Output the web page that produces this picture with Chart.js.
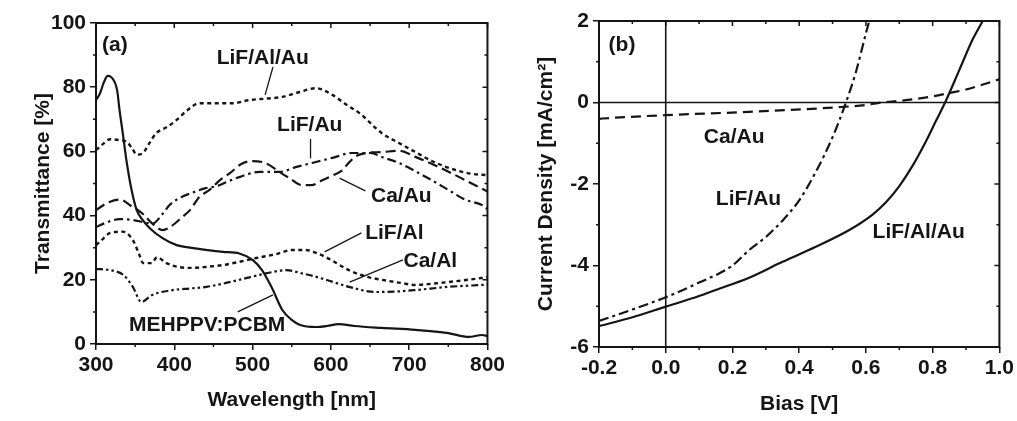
<!DOCTYPE html>
<html><head><meta charset="utf-8">
<script src="https://cdn.jsdelivr.net/npm/chart.js@4.4.1/dist/chart.umd.min.js"></script>
<style>
html,body{margin:0;padding:0;background:#fff;width:1017px;height:421px;overflow:hidden}
#ca{position:absolute;left:0;top:0}
#cb{position:absolute;left:508px;top:0}
</style></head><body>
<canvas id="ca" width="508" height="421"></canvas>
<canvas id="cb" width="509" height="421"></canvas>
<script>
// ---------- Panel (a): Transmittance vs wavelength ----------
const mehWl = [300,305,310,315,320,327,330,334,339,345,352,360,369,385,403,420,440,462,483,500,512,524,538,550,560,581,595,610,630,665,708,750,776,793,800];
const mehT  = [76,78,81.5,83.5,83,79,73,66,57,48.5,41.7,38.5,36,33,30.8,30,29.3,28.7,28.2,26.2,23,17.8,10.6,7.5,6,5.3,5.6,6.2,5.6,5,4.4,3.4,2.2,2.8,2.5];

const lalaWl = [300,310,318,330,339,346,352,360,368,377,390,403,415,432,450,474,496,520,538,560,581,602,620,636,665,687,708,729,759,780,800];
const lalaT  = [60.4,62.5,63.8,63.5,63,61,59,59.5,62.5,65.7,67.5,69.8,72.5,75,75,75,76,76.5,77,78.5,79.7,77.6,74.5,72,65.7,62.6,59.8,57,54.2,53,52.6];

const caAuWl = [300,315,330,345,360,372,385,395,410,420,432,445,458,471,485,500,512,521,538,547,563,575,589,602,614,623,632,645,665,687,708,738,772,800];
const caAuT  = [41.7,44,45,43,40.5,37.5,35.5,36.5,39.5,41.7,45.8,48,51,53.2,56,57,56.7,55.8,53,51.7,49.5,49.5,51,52.5,54,56.5,58.5,59.5,59.8,60.2,58.3,55.1,51,47.5];

const lfAuWl = [300,315,330,348,360,372,385,394,407,426,439,454,470,483,509,534,555,576,602,627,650,668,687,708,729,750,772,793,800];
const lfAuT  = [36.4,38,38.9,38.6,38,37.5,40.5,43.3,45.5,47.4,48.5,49.2,50.8,52,53.6,53.6,55.1,56.4,58,59.5,59.5,58,56.4,53.8,51,48,44.9,43.3,42];

const lfAlWl = [300,310,318,334,347,355,360,371,378,390,405,420,440,462,483,505,530,551,568,580,594,623,645,665,690,708,730,750,775,800];
const lfAlT  = [30.8,33,34.6,35,32.4,28,25.2,25.2,27,25.2,24,23.7,24,24.6,25.6,26.8,28,29.3,29.3,28.5,27,23,21,20,19,18.4,18.8,19.3,20,20.8];

const caAlWl = [300,318,335,347,358,372,398,420,441,462,483,500,517,543,563,580,594,623,657,680,708,750,793,800];
const caAlT  = [23.4,23,21.5,17.8,13.1,15.3,16.8,17.3,17.8,18.8,20,21,22,23,22,21,20,17.8,16.2,16.3,16.8,17.8,18.4,18.5];

// ---------- Panel (b): J-V curves ----------
const jvCaAuV = [-0.2,-0.167,0.0,0.25,0.528,0.6,0.648,0.7,0.749,0.8,0.848,0.9,0.946,1.0];
const jvCaAuJ = [-0.4,-0.38,-0.31,-0.23,-0.11,-0.06,0,0.04,0.086,0.15,0.23,0.32,0.43,0.57];

const jvLfAuV = [-0.2,-0.1,0,0.1,0.2,0.25,0.3,0.35,0.4,0.45,0.5,0.54,0.57,0.6,0.61];
const jvLfAuJ = [-5.36,-5.08,-4.78,-4.42,-4.0,-3.62,-3.3,-2.9,-2.4,-1.7,-0.85,0,0.75,1.7,2.0];

const jvLaaV = [-0.2,-0.1,0,0.1,0.15,0.25,0.35,0.45,0.55,0.62,0.66,0.7,0.74,0.78,0.81,0.84,0.88,0.92,0.95];
const jvLaaJ = [-5.49,-5.27,-5.01,-4.75,-4.6,-4.3,-3.91,-3.54,-3.13,-2.75,-2.45,-2.05,-1.55,-0.95,-0.45,0.05,0.8,1.55,2.0];

// tick settings
const aXTicks = {min:300, max:800, step:100, minor:50};
const aYTicks = {min:0, max:100, step:20, minor:10};
const bXTicks = {min:-0.2, max:1.0, step:0.2, minor:0.1};
const bYTicks = {min:-6, max:2, step:2, minor:1};

// ---------- drawing helpers ----------
const FONT = '"Liberation Sans", Arial, Helvetica, sans-serif';
const INK = '#151515';

function ds(label, xs, ys, dash, w){
  return {label, data: xs.map((v,i)=>({x:v, y:ys[i]})), borderColor:INK, backgroundColor:INK,
    borderWidth:w||2, borderDash:dash, pointRadius:0, fill:false, cubicInterpolationMode:'monotone'};
}

function scaleOpts(t, isX, size, decimals){
  return {
    type:'linear', min:t.min, max:t.max,
    ticks:{stepSize:t.step, autoSkip:false, maxRotation:0, color:INK, padding:isX?3:4,
      font:{family:FONT, size:21, weight:'bold'},
      callback:(v)=>{ const n = Math.abs(v)<1e-9 ? 0 : Number(v); return decimals ? n.toFixed(decimals) : String(Math.round(n)); }},
    grid:{display:true, drawOnChartArea:false, drawTicks:true, tickLength:6, color:INK, lineWidth:1.5},
    border:{display:false},
    afterFit(s){ if(isX) s.height=size; else s.width=size; }
  };
}

function panelPlugin(cfg){
  return {
    id:'panel',
    beforeDatasetsDraw(chart){
      if(!cfg.zeroLines) return;
      const {ctx, chartArea:ca, scales:{x,y}} = chart;
      ctx.save(); ctx.strokeStyle=INK; ctx.lineWidth=1.6; ctx.setLineDash([]);
      const px = x.getPixelForValue(0), py = y.getPixelForValue(0);
      ctx.beginPath(); ctx.moveTo(px, ca.top); ctx.lineTo(px, ca.bottom); ctx.stroke();
      ctx.beginPath(); ctx.moveTo(ca.left, py); ctx.lineTo(ca.right, py); ctx.stroke();
      ctx.restore();
    },
    afterDraw(chart){
      const {ctx, chartArea:ca, scales:{x,y}} = chart;
      ctx.save();
      ctx.setLineDash([]);
      ctx.strokeStyle=INK;
      ctx.lineWidth=2;
      ctx.strokeRect(ca.left, ca.top, ca.right-ca.left, ca.bottom-ca.top);
      ctx.lineWidth=1.5;
      const vals=(t,step)=>{const out=[]; const n=Math.round((t.max-t.min)/step); for(let i=0;i<=n;i++) out.push(t.min+i*step); return out;};
      const isMajor=(v,t)=>Math.abs(((v-t.min)/t.step)-Math.round((v-t.min)/t.step))<1e-6;
      ctx.beginPath();
      vals(cfg.xt, cfg.xt.minor).forEach(v=>{
        const p=x.getPixelForValue(v); const maj=isMajor(v,cfg.xt);
        if(!maj){ ctx.moveTo(p, ca.bottom); ctx.lineTo(p, ca.bottom+3); }
        ctx.moveTo(p, ca.top); ctx.lineTo(p, ca.top+(maj?5:3));
      });
      vals(cfg.yt, cfg.yt.minor).forEach(v=>{
        const p=y.getPixelForValue(v); const maj=isMajor(v,cfg.yt);
        if(!maj){ ctx.moveTo(ca.left, p); ctx.lineTo(ca.left-3, p); }
        ctx.moveTo(ca.right, p); ctx.lineTo(ca.right-(maj?5:3), p);
      });
      ctx.stroke();
      ctx.lineWidth=1.3;
      ctx.beginPath();
      cfg.leaders.forEach(l=>{
        ctx.moveTo(x.getPixelForValue(l[0]), y.getPixelForValue(l[1]));
        ctx.lineTo(x.getPixelForValue(l[2]), y.getPixelForValue(l[3]));
      });
      ctx.stroke();
      ctx.fillStyle=INK;
      ctx.font='bold 21px '+FONT;
      ctx.textAlign='center'; ctx.textBaseline='middle';
      cfg.labels.forEach(l=>{ ctx.fillText(l[0], x.getPixelForValue(l[1]), y.getPixelForValue(l[2])); });
      ctx.fillText(cfg.xTitle, (ca.left+ca.right)/2, cfg.xTitleY);
      ctx.save();
      ctx.translate(cfg.yTitleX, (ca.top+ca.bottom)/2);
      ctx.rotate(-Math.PI/2);
      ctx.fillText(cfg.yTitle, 0, 0);
      ctx.restore();
      ctx.restore();
    }
  };
}

// ---------- Panel (a) ----------
new Chart(document.getElementById('ca'), {
  type:'line',
  data:{datasets:[
    ds('MEHPPV:PCBM', mehWl, mehT, [], 2.2),
    ds('LiF/Al/Au', lalaWl, lalaT, [4,3.5], 2.4),
    ds('Ca/Au', caAuWl, caAuT, [10,5], 2.2),
    ds('LiF/Au', lfAuWl, lfAuT, [9,4,2.5,4], 2.2),
    ds('LiF/Al', lfAlWl, lfAlT, [4,3.5], 2.4),
    ds('Ca/Al', caAlWl, caAlT, [7,3,2.5,3,2.5,3], 2.2)
  ]},
  options:{
    responsive:false, animation:false, events:[],
    layout:{padding:{top:23, right:20, left:0, bottom:0}},
    plugins:{legend:{display:false}, tooltip:{enabled:false}},
    scales:{ x: scaleOpts(aXTicks, true, 77, 0), y: scaleOpts(aYTicks, false, 96, 0) }
  },
  plugins:[panelPlugin({
    xt:aXTicks, yt:aYTicks, zeroLines:false,
    xTitle:'Wavelength [nm]', xTitleY:400, yTitle:'Transmittance [%]', yTitleX:43,
    labels:[['(a)',324,93],['LiF/Al/Au',513,89],['LiF/Au',573,68.2],['Ca/Au',690,46.1],
            ['LiF/Al',681,34.6],['Ca/Al',727,25.9],['MEHPPV:PCBM',442,5.9]],
    leaders:[[526,86.3,516,77.6],[574,63.9,574,57.9],[611,51.7,644,47.7],
             [592,28.7,639,34.6],[624,19.3,692,26.2],[481,10,526,15.3]]
  })]
});

// ---------- Panel (b) ----------
new Chart(document.getElementById('cb'), {
  type:'line',
  data:{datasets:[
    ds('Ca/Au', jvCaAuV, jvCaAuJ, [10,6], 2.2),
    ds('LiF/Au', jvLfAuV, jvLfAuJ, [10,4,3,4], 2.2),
    ds('LiF/Al/Au', jvLaaV, jvLaaJ, [], 2.2)
  ]},
  options:{
    responsive:false, animation:false, events:[],
    layout:{padding:{top:21, right:17, left:0, bottom:0}},
    plugins:{legend:{display:false}, tooltip:{enabled:false}},
    scales:{ x: scaleOpts(bXTicks, true, 74, 1), y: scaleOpts(bYTicks, false, 91, 0) }
  },
  plugins:[panelPlugin({
    xt:bXTicks, yt:bYTicks, zeroLines:true,
    xTitle:'Bias [V]', xTitleY:404, yTitle:'Current Density [mA/cm²]', yTitleX:38,
    labels:[['(b)',-0.131,1.41],['Ca/Au',0.205,-0.85],['LiF/Au',0.248,-2.37],['LiF/Al/Au',0.758,-3.18]],
    leaders:[]
  })]
});
</script>
</body></html>
